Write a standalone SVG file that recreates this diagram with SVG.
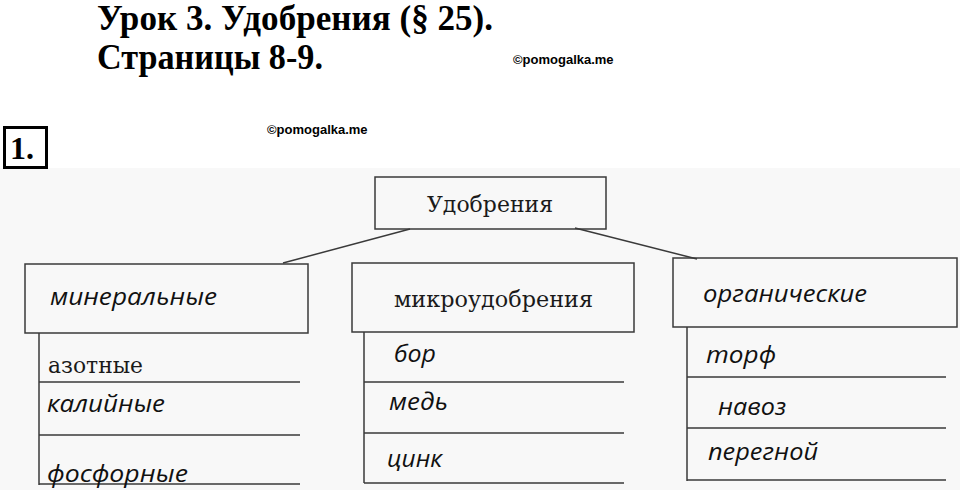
<svg xmlns="http://www.w3.org/2000/svg" width="960" height="490" viewBox="0 0 960 490">
<style>
.title{font-family:"Liberation Serif","Times New Roman",serif;font-weight:bold;font-size:35px;fill:#000}
.copy{font-family:"Liberation Sans",Arial,sans-serif;font-weight:bold;font-size:13px;fill:#000}
.box{fill:none;stroke:#3a3a3a;stroke-width:1.5}
.ln{stroke:#3a3a3a;stroke-width:1.5;fill:none}
.serif{font-family:"DejaVu Serif","Liberation Serif",serif;font-size:23px;fill:#1a1a1a}
.ital{font-family:"Open Sans","DejaVu Sans",sans-serif;font-style:italic;font-size:24px;fill:#111}
</style>
<rect x="0" y="0" width="960" height="490" fill="#ffffff"/>
<rect x="0" y="168" width="960" height="322" fill="#f8f8f8"/>
<g id="header">
<text class="title" x="97" y="30" textLength="396" lengthAdjust="spacingAndGlyphs">Урок 3. Удобрения (§ 25).</text>
<text class="title" x="97" y="69" textLength="226" lengthAdjust="spacingAndGlyphs">Страницы 8-9.</text>
<text class="copy" x="513" y="64">©pomogalka.me</text>
<text class="copy" x="267" y="134">©pomogalka.me</text>
<rect x="4.5" y="127.5" width="42" height="40" fill="#fff" stroke="#000" stroke-width="3"/>
<text x="10" y="159" font-family="Liberation Serif,serif" font-weight="bold" font-size="32" fill="#000">1.</text>
</g>
<g id="connectors">
<line class="ln" x1="410" y1="229" x2="283" y2="263"/>
<line class="ln" x1="575" y1="228" x2="697" y2="259"/>
</g>
<g id="node-root">
<rect class="box" x="375" y="177" width="231" height="52"/>
<text class="serif" x="427" y="212" textLength="126" lengthAdjust="spacingAndGlyphs">Удобрения</text>
</g>
<g id="node-mineral">
<rect class="box" x="25" y="264" width="283" height="69"/>
<text class="ital" x="50" y="305" textLength="167" lengthAdjust="spacingAndGlyphs">минеральные</text>
<line class="ln" x1="39" y1="333" x2="39" y2="485"/>
<line class="ln" x1="39" y1="382" x2="300" y2="382"/>
<line class="ln" x1="39" y1="435" x2="300" y2="435"/>
<line class="ln" x1="39" y1="484" x2="300" y2="484"/>
<text class="serif" x="48" y="373" textLength="95" lengthAdjust="spacingAndGlyphs">азотные</text>
<text class="ital" x="47" y="412" textLength="118" lengthAdjust="spacingAndGlyphs">калийные</text>
<text class="ital" x="47" y="482" textLength="141" lengthAdjust="spacingAndGlyphs">фосфорные</text>
</g>
<g id="node-micro">
<rect class="box" x="352" y="263" width="282" height="69"/>
<text class="serif" x="394" y="307" textLength="199" lengthAdjust="spacingAndGlyphs">микроудобрения</text>
<line class="ln" x1="364" y1="332" x2="364" y2="483"/>
<line class="ln" x1="364" y1="382" x2="624" y2="382"/>
<line class="ln" x1="364" y1="433" x2="624" y2="433"/>
<line class="ln" x1="364" y1="483" x2="624" y2="483"/>
<text class="ital" x="394" y="362" textLength="42" lengthAdjust="spacingAndGlyphs">бор</text>
<text class="ital" x="389" y="410" textLength="59" lengthAdjust="spacingAndGlyphs">медь</text>
<text class="ital" x="387" y="467" textLength="55" lengthAdjust="spacingAndGlyphs">цинк</text>
</g>
<g id="node-organic">
<rect class="box" x="673" y="258" width="284" height="69"/>
<text class="ital" x="703" y="302" textLength="164" lengthAdjust="spacingAndGlyphs">органические</text>
<line class="ln" x1="687" y1="327" x2="687" y2="481"/>
<line class="ln" x1="687" y1="377" x2="946" y2="377"/>
<line class="ln" x1="687" y1="428" x2="946" y2="428"/>
<line class="ln" x1="687" y1="480" x2="946" y2="480"/>
<text class="ital" x="706" y="363" textLength="70" lengthAdjust="spacingAndGlyphs">торф</text>
<text class="ital" x="718" y="415" textLength="68" lengthAdjust="spacingAndGlyphs">навоз</text>
<text class="ital" x="708" y="460" textLength="110" lengthAdjust="spacingAndGlyphs">перегной</text>
</g>
</svg>
